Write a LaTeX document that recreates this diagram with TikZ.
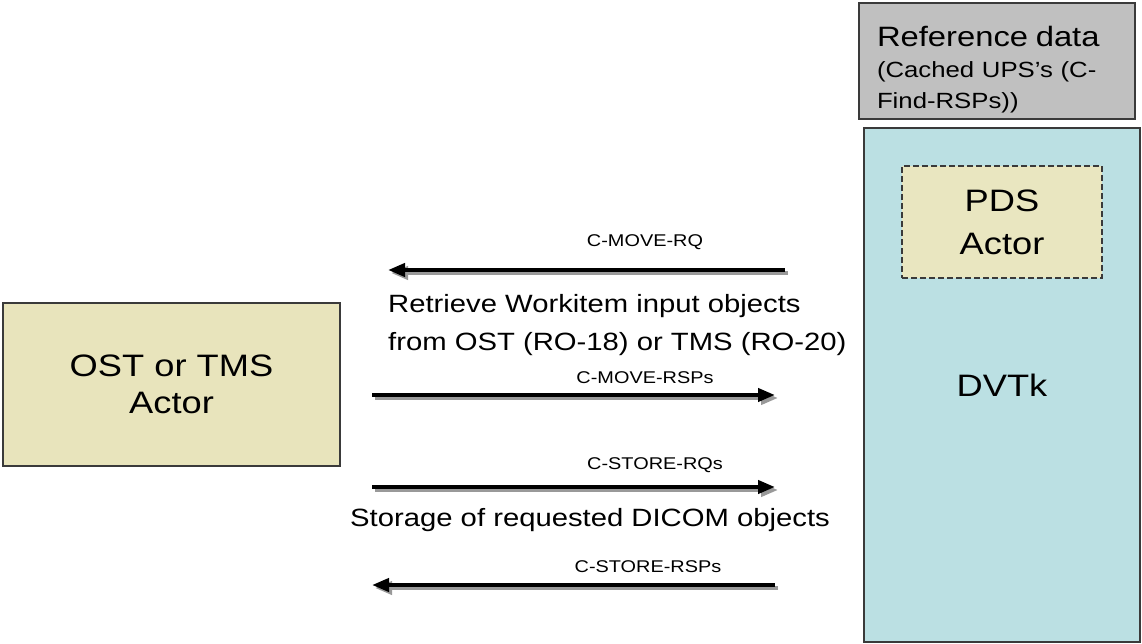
\documentclass[tikz,border=0pt]{standalone}
\usepackage{fontspec}
\setmainfont{Liberation Sans}[FakeStretch=1.17]
\usepackage{tikz}
\usetikzlibrary{arrows.meta,positioning}
\definecolor{actorfill}{RGB}{232,228,188}
\definecolor{pdsfill}{RGB}{233,230,192}
\definecolor{dvtkfill}{RGB}{187,224,227}
\definecolor{reffill}{RGB}{192,192,192}
\definecolor{boxline}{RGB}{58,58,58}

\begin{document}
\begin{tikzpicture}[x=1pt, y=-1pt,
	box/.style={draw=boxline, line width=1.5pt, inner sep=0pt, align=center},
	actorbox/.style={box, fill=actorfill, font=\fontsize{31}{37}\selectfont},
	dvtkbox/.style={box, fill=dvtkfill, font=\fontsize{31}{37}\selectfont},
	pdsbox/.style={box, fill=pdsfill, dash pattern=on 6pt off 3pt, line width=1.4pt, font=\fontsize{31}{43}\selectfont},
	refbox/.style={box, fill=reffill, align=left, inner xsep=18pt, font=\fontsize{23}{31}\selectfont},
	msg/.style={line width=4pt, -{Triangle[length=17pt,width=13pt]}},
	msgshade/.style={msg, draw=black!40, fill=black!40},
	lbl/.style={inner sep=0pt, font=\fontsize{17}{20}\selectfont},
	note/.style={inner sep=0pt, align=left, font=\fontsize{25}{38}\selectfont}]
	\useasboundingbox (0,0) rectangle (1142,644);

	% actors
	\node (ost) [actorbox, minimum width=337pt, minimum height=163pt] at (171.5,384.5) {OST or TMS\\Actor};
	\node (refdata) [refbox, minimum width=276pt, minimum height=116pt, text width=240pt] at (997,61)
		{\rule{0pt}{38pt}{\fontsize{28}{31}\selectfont Reference data}\\
		 {\fontsize{22}{31}\selectfont (Cached UPS’s (C-}\\
		 {\fontsize{22}{31}\selectfont Find-RSPs))}};
	\node (dvtk) [dvtkbox, minimum width=276pt, minimum height=514pt] at (1002,385) {DVTk};
	\node (pds) [pdsbox, minimum width=200pt, minimum height=112pt] at (1002,222) {PDS\\Actor};

	% arrow ends
	\coordinate (rqR) at (785,270);
	\coordinate (rqL) at (388,270);
	\coordinate (rspL) at (372,395);
	\coordinate (rspR) at (775,395);
	\coordinate (strL) at (372,487);
	\coordinate (strR) at (775,487);
	\coordinate (srspR) at (775,585);
	\coordinate (srspL) at (372,585);

	% messages
	\foreach \s/\e in {rqR/rqL, rspL/rspR, strL/strR, srspR/srspL} {
		\draw [msgshade] ([shift={(3,3)}]\s) -- ([shift={(3,3)}]\e);
		\draw [msg] (\s) -- (\e);
	}

	\node (lrq) [lbl] at (645,242) {C-MOVE-RQ};
	\node (lrsp) [lbl] at (645,378) {C-MOVE-RSPs};
	\node (lstr) [lbl] at (655,465) {C-STORE-RQs};
	\node (lsrsp) [lbl] at (648,567) {C-STORE-RSPs};

	\node (retrieve) [note, anchor=west] at (388,325) {Retrieve Workitem input objects\\from OST (RO-18) or TMS (RO-20)};
	\node (storage) [note, anchor=west] at (350,520) {Storage of requested DICOM objects};
\end{tikzpicture}
\end{document}
